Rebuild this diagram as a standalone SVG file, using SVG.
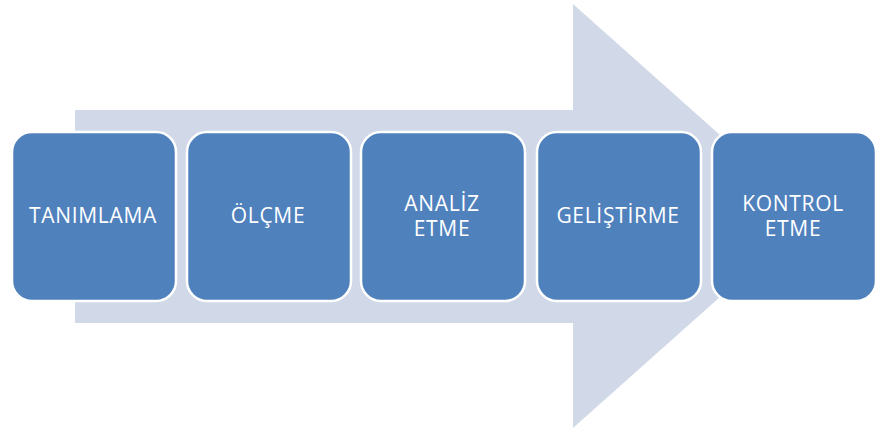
<svg xmlns="http://www.w3.org/2000/svg" width="878" height="430" viewBox="0 0 878 430">
  <style>
    .step rect { fill: #4f81bd; stroke: #ffffff; stroke-width: 2.5; }
    .step text { fill: #ffffff; font-family: "Open Sans", "Liberation Sans", sans-serif; font-size: 21px; letter-spacing: 0.7px; text-anchor: middle; }
  </style>
  <rect width="878" height="430" fill="#ffffff"/>
  <!-- background block arrow -->
  <g id="arrow">
    <polygon points="75,110 573,110 573,4 811,216 573,428 573,323 75,323" fill="#d1d8e8"/>
  </g>
  <g id="connectors"></g>
  <g id="step1" class="step">
    <rect x="12" y="132" width="164" height="169" rx="20"/>
    <text x="93" y="223">TANIMLAMA</text>
  </g>
  <g id="step2" class="step">
    <rect x="187" y="132" width="164" height="169" rx="20"/>
    <text x="268" y="223">ÖLÇME</text>
  </g>
  <g id="step3" class="step">
    <rect x="361" y="132" width="164" height="169" rx="20"/>
    <text x="442" y="211">ANALİZ</text>
    <text x="442" y="236">ETME</text>
  </g>
  <g id="step4" class="step">
    <rect x="537" y="132" width="164" height="169" rx="20"/>
    <text x="618" y="223">GELİŞTİRME</text>
  </g>
  <g id="step5" class="step">
    <rect x="712" y="132" width="164" height="169" rx="20"/>
    <text x="793" y="211">KONTROL</text>
    <text x="793" y="236">ETME</text>
  </g>
</svg>
